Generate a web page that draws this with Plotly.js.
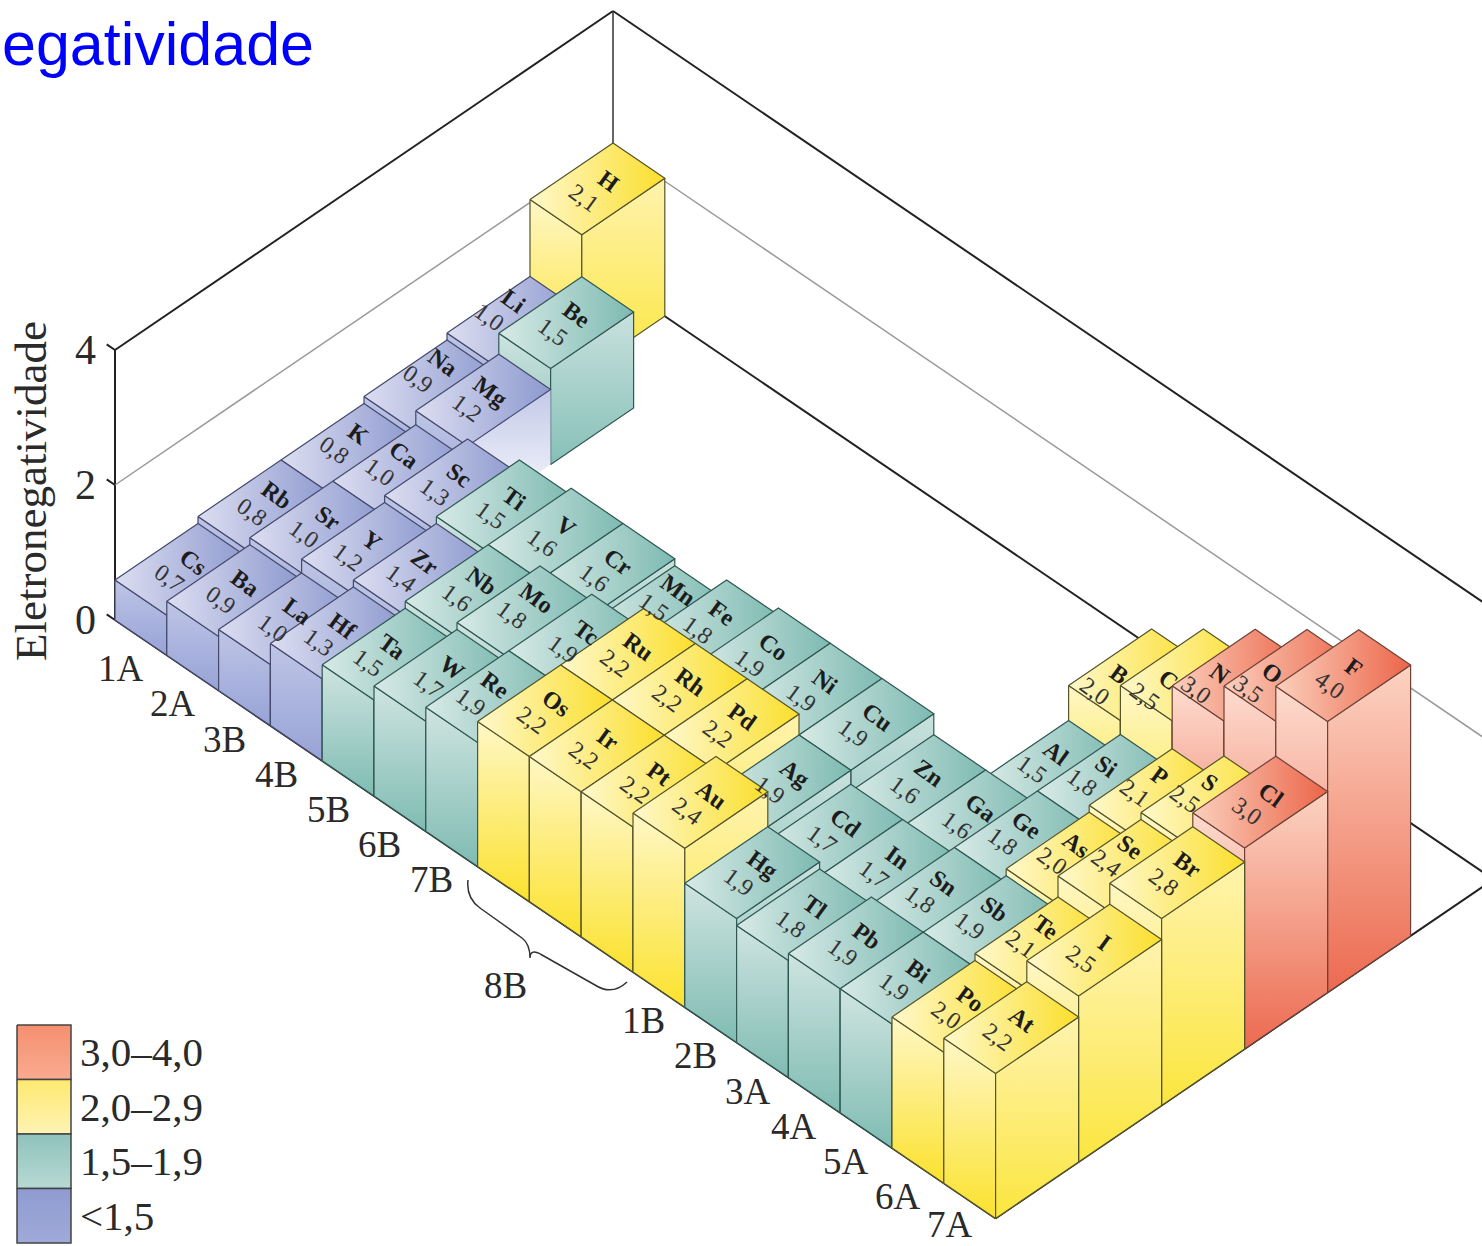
<!DOCTYPE html>
<html><head><meta charset="utf-8">
<script src="https://cdn.plot.ly/plotly-3.0.1.min.js"></script>
<style>html,body{margin:0;padding:0;background:#fff;overflow:hidden}#p{width:1482px;height:1246px}</style>
</head><body><div id="p"></div>
<script>
// ---- data: one list per period, from the front row (6) to the back row (1); null = empty cell
const symbols6=["Cs","Ba","La","Hf","Ta","W","Re","Os","Ir","Pt","Au","Hg","Tl","Pb","Bi","Po","At"];
const values6 =[0.7,0.9,1.0,1.3,1.5,1.7,1.9,2.2,2.2,2.2,2.4,1.9,1.8,1.9,1.9,2.0,2.2];
const symbols5=["Rb","Sr","Y","Zr","Nb","Mo","Tc","Ru","Rh","Pd","Ag","Cd","In","Sn","Sb","Te","I"];
const values5 =[0.8,1.0,1.2,1.4,1.6,1.8,1.9,2.2,2.2,2.2,1.9,1.7,1.7,1.8,1.9,2.1,2.5];
const symbols4=["K","Ca","Sc","Ti","V","Cr","Mn","Fe","Co","Ni","Cu","Zn","Ga","Ge","As","Se","Br"];
const values4 =[0.8,1.0,1.3,1.5,1.6,1.6,1.5,1.8,1.9,1.9,1.9,1.6,1.6,1.8,2.0,2.4,2.8];
const symbols3=["Na","Mg",null,null,null,null,null,null,null,null,null,null,"Al","Si","P","S","Cl"];
const values3 =[0.9,1.2,null,null,null,null,null,null,null,null,null,null,1.5,1.8,2.1,2.5,3.0];
const symbols2=["Li","Be",null,null,null,null,null,null,null,null,null,null,"B","C","N","O","F"];
const values2 =[1.0,1.5,null,null,null,null,null,null,null,null,null,null,2.0,2.5,3.0,3.5,4.0];
const symbols1=["H"];
const values1 =[2.1];
const groupLabels=["1A","2A","3B","4B","5B","6B","7B","8B","1B","2B","3A","4A","5A","6A","7A"];
const groupCells =[0,1,2,3,4,5,6,8,10,11,12,13,14,15,16];
const axisTicks=[0,2,4];
const legendLabels=["3,0–4,0","2,0–2,9","1,5–1,9","<1,5"];
const titleText="egatividade";
const axisTitle="Eletronegatividade";

const rows=[[symbols6,values6],[symbols5,values5],[symbols4,values4],[symbols3,values3],[symbols2,values2],[symbols1,values1]];

// ---- oblique projection of (group, period row, electronegativity) onto the plot axes
const O={x:115,y:620}, CV={x:51.8,y:35.2}, RV={x:83,y:-56.5}, ZS=67.5, NC=17, NR=6;
const X=(c,r)=>O.x+c*CV.x+r*RV.x;
const Y=(c,r,z)=>O.y+c*CV.y+r*RV.y-z*ZS;
// the illustration draws its bars slightly short at low values
const barZ=v=>1.037*v-0.133;
// labels the illustration moves away from the middle of a top face (pixels)
const labelNudge={Li:[-12,-14],Na:[0,-16],K:[-1,-8],Rb:[0,-3],Ca:[-7,-8],Sc:[-4,-2],Sr:[0,-2],Y:[-8,0],Zr:[-7,0],Hf:[-6,0],Ta:[-8,0],Re:[-9,-4],
  Mg:[-3,-1],Nb:[-2,-2],Mo:[1,-6],Mn:[8,-14],Fe:[0,-5],B:[-28,7],C:[-30,12],N:[-30,6],O:[-30,5],Al:[-8,-6],Si:[-10,-7],P:[-8,-11],S:[-10,-12],
  Ge:[-6,-5],As:[-8,-6],Se:[-6,-11],Sn:[-6,-3],Sb:[-7,-5],Te:[-8,-8]};

const palettes={
 red:   {top:["#fbd0bd","#ec6549"],front:["#fddccf","#ee6d53"],right:["#fcd3c2","#ec6a50"],line:"#6e4238"},
 yellow:{top:["#fff8cc","#fbdf2c"],front:["#fff7c6","#fbe22e"],right:["#fff3ae","#fbe63e"],line:"#55552a"},
 teal:  {top:["#d8eae6","#7dbab2"],front:["#cfe4e0","#7fbcb3"],right:["#c9e1dd","#86c0b8"],line:"#2f5853"},
 blue:  {top:["#dcdef1","#8d99cf"],front:["#bec5e6","#98a3d6"],right:["#c5cbe9","#98a3d6"],line:"#454a6c"}
};
const bandOf=v=>v>=3?"red":v>=2?"yellow":v>=1.5?"teal":"blue";
const traces=[];
function poly(xs,ys,colors,type,line,w){
  // colors run left to right, or from the top of the picture to the bottom
  const scale=type==="vertical"?[[0,colors[1]],[1,colors[0]]]:[[0,colors[0]],[1,colors[1]]];
  traces.push({type:"scatter",mode:"lines",x:[...xs,xs[0]],y:[...ys,ys[0]],fill:"toself",
    fillgradient:{type:type,colorscale:scale},
    line:{color:line,width:w===undefined?1.2:w},hoverinfo:"skip",showlegend:false});
}
function seg(c0,r0,z0,c1,r1,z1,color,w){
  traces.push({type:"scatter",mode:"lines",x:[X(c0,r0),X(c1,r1)],y:[Y(c0,r0,z0),Y(c1,r1,z1)],
    line:{color:color,width:w},hoverinfo:"skip",showlegend:false});
}
// walls and floor
const wallTop=4;
seg(0,0,0,0,0,wallTop,"#222",2);
seg(0,0,wallTop,0,NR,wallTop,"#222",2);
seg(0,NR,0,0,NR,wallTop,"#333",1.5);
seg(0,NR,wallTop,NC,NR,wallTop,"#222",2);
seg(0,0,2,0,NR,2,"#999",1.5);
seg(0,NR,2,NC,NR,2,"#999",1.5);
seg(0,NR,0,NC,NR,0,"#222",2);
seg(NC,0,0,NC,NR,0,"#222",2);
seg(0,0,0,NC,0,0,"#222",2);
axisTicks.forEach(t=>seg(-0.16,0,t,0,0,t,"#222",2));

// bars, painted back to front and left to right
const annotations=[];
const fadedFaces=["Mg"];
for(let r=NR-1;r>=0;r--){
  const [syms,vals]=rows[r];
  for(let c=0;c<vals.length;c++){
    if(vals[c]===null) continue;
    const v=barZ(vals[c]);
    const p=palettes[bandOf(vals[c])];
    poly([X(c,r),X(c+1,r),X(c+1,r),X(c,r)],[Y(c,r,v),Y(c+1,r,v),Y(c+1,r,0),Y(c,r,0)],p.front,"vertical",p.line);
    if(fadedFaces.includes(syms[c])){
      poly([X(c+1,r),X(c+1,r+1),X(c+1,r+1),X(c+1,r)],[Y(c+1,r,v),Y(c+1,r+1,v),Y(c+1,r+1,0),Y(c+1,r,0)],["#c3c9e8","#ffffff"],"vertical","rgba(0,0,0,0)",0);
    }else{
      poly([X(c+1,r),X(c+1,r+1),X(c+1,r+1),X(c+1,r)],[Y(c+1,r,v),Y(c+1,r+1,v),Y(c+1,r+1,0),Y(c+1,r,0)],p.right,"vertical",p.line);
    }
    poly([X(c,r),X(c+1,r),X(c+1,r+1),X(c,r+1)],[Y(c,r,v),Y(c+1,r,v),Y(c+1,r+1,v),Y(c,r+1,v)],p.top,"horizontal",p.line);
    const rs=r+0.5+0.13, rv=r+0.5-0.16, n=labelNudge[syms[c]]||[0,0];
    annotations.push({x:X(c+0.5,rs)+n[0],y:Y(c+0.5,rs,v)+n[1],text:"<b>"+syms[c]+"</b>",showarrow:false,textangle:36,xanchor:"center",yanchor:"middle",
      font:{family:"Liberation Serif",size:24,color:"#1c1c1c"}});
    annotations.push({x:X(c+0.5,rv)+n[0],y:Y(c+0.5,rv,v)+n[1],text:vals[c].toFixed(1).replace(".",","),showarrow:false,textangle:36,xanchor:"center",yanchor:"middle",
      font:{family:"Liberation Serif",size:24,color:"#333"}});
  }
}
const serif=(s,col)=>({family:"Liberation Serif",size:s,color:col||"#2a2a2a"});
// group labels under the front edge
groupLabels.forEach((g,i)=>{
  const c=groupCells[i]+0.5, far=g==="8B", late=groupCells[i]>=10&&groupCells[i]<=12;
  annotations.push({x:X(c,0)+(far?-50:late?-15:-20),y:Y(c,0,0)+(far?66:g==="7A"?24:31),text:g,showarrow:false,xanchor:"center",yanchor:"middle",font:serif(37)});
});
// axis ticks and title
axisTicks.forEach(t=>annotations.push({x:X(0,0)-30,y:Y(0,0,t),text:String(t),showarrow:false,xanchor:"center",yanchor:"middle",font:serif(42)}));
annotations.push({x:31,y:491,text:axisTitle,showarrow:false,textangle:-90,xanchor:"center",yanchor:"middle",font:serif(45)});
annotations.push({x:316,y:44,text:titleText,showarrow:false,xanchor:"right",yanchor:"middle",font:{family:"Liberation Sans",size:61,color:"#0000ff"}});
// legend
const legendColors=[["#f4906f","#f9ab90"],["#fde96f","#fff3b5"],["#8fc2bc","#b8d9d3"],["#8f9bd0","#a0aad9"]];
legendLabels.forEach((l,i)=>{
  const y0=1025+i*54.5,y1=y0+54.5;
  poly([17,71,71,17],[y0,y0,y1,y1],legendColors[i],"vertical","#444",1.5);
  annotations.push({x:78,y:(y0+y1)/2,text:l.replace("<","&lt;"),showarrow:false,xanchor:"left",yanchor:"middle",font:serif(41)});
});
const layout={width:1482,height:1246,margin:{l:0,r:0,t:0,b:0},paper_bgcolor:"#fff",plot_bgcolor:"#fff",showlegend:false,
  xaxis:{range:[0,1482],visible:false,fixedrange:true},yaxis:{range:[1246,0],visible:false,fixedrange:true},
  annotations:annotations,
  shapes:[{type:"path",path:"M468,880 Q466,898 480,908 L522,938 Q530,944 530,958 Q530,948 542,955 L595,985 Q612,996 627,982",line:{color:"#333",width:1.5}}]};
Plotly.newPlot("p",traces,layout,{staticPlot:true,displayModeBar:false});
</script></body></html>
